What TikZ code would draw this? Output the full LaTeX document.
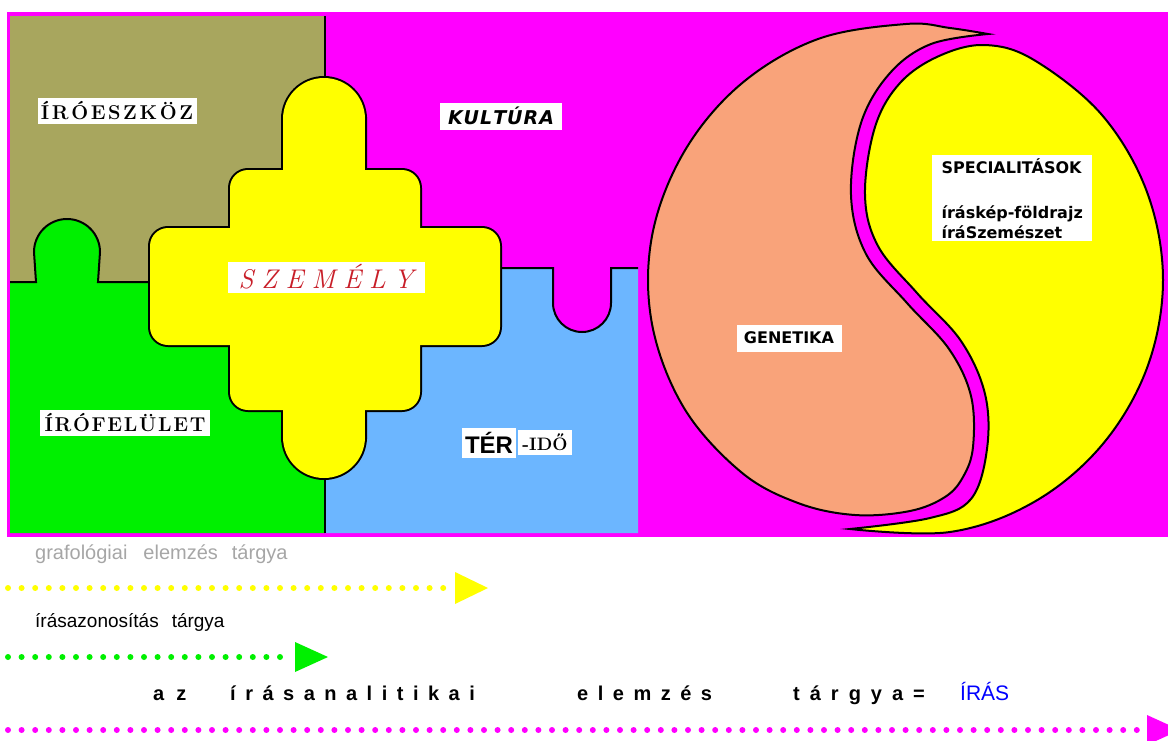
\documentclass[tikz,border=0pt]{standalone}
\usepackage{fontspec}
\newfontfamily\arial{Liberation Sans}
\newfontfamily\deja{DejaVu Sans}

\definecolor{puzmag}{RGB}{255,0,255}
\definecolor{puzolive}{RGB}{168,166,94}
\definecolor{puzgreen}{RGB}{0,240,0}
\definecolor{puzblue}{RGB}{108,182,255}
\definecolor{puzyellow}{RGB}{255,255,0}
\definecolor{puzsalmon}{RGB}{249,163,122}
\definecolor{szred}{RGB}{200,30,40}

% betuk szetszedese
\newcommand\spaced[2]{\def\spkern{#1}\spacedfirst#2\relax}
\def\spacedfirst#1{#1\spacedaux}
\def\spacedaux#1{\ifx#1\relax\else\kern\spkern#1\expandafter\spacedaux\fi}

\begin{document}
\begin{tikzpicture}[x=1pt,y=-1pt,
    edge/.style={draw=black,line width=2pt},
    label/.style={fill=white,inner sep=0pt,text=black},
    caption/.style={anchor=base west,inner sep=0pt},
    dots/.style={line width=6pt,line cap=round,dash pattern=on 0pt off 13.6pt}]
    \useasboundingbox (0,0) rectangle (1168,740);
    % hatter
    \fill[puzmag] (7,12) rectangle (1168,537);
    % iroeszkoz
    \fill[puzolive] (10,16) rectangle (325,282);
    % irofelulet
    \fill[puzgreen] (10,533) -- (10,282) -- (36,282) -- (34,252)
        arc[start angle=180,end angle=360,radius=33] -- (98,282) -- (325,282) -- (325,533) -- cycle;
    % ter-ido
    \fill[puzblue] (325,533) -- (325,268) -- (553,268) -- (553,303)
        arc[start angle=180,end angle=0,radius=29] -- (611,268) -- (638,268) -- (638,533) -- cycle;
    % hatarok
    \draw[edge] (325,16) -- (325,533);
    \draw[edge] (10,282) -- (36,282) -- (34,252)
        arc[start angle=180,end angle=360,radius=33] -- (98,282) -- (325,282);
    \draw[edge] (325,268) -- (553,268) -- (553,303)
        arc[start angle=180,end angle=0,radius=29] -- (611,268) -- (638,268);
    % szemely: kontur, aztan kitoltes
    \draw[line width=4pt] (283,119) rectangle (365,437)
        (324,119) circle[radius=41] (324,437) circle[radius=41];
    \draw[line width=4pt,rounded corners=18pt] (230,170) rectangle (420,410)
        (150,228) rectangle (500,345);
    \fill[puzyellow] (283,119) rectangle (365,437);
    \fill[puzyellow] (324,119) circle[radius=41];
    \fill[puzyellow] (324,437) circle[radius=41];
    \fill[puzyellow,rounded corners=18pt] (230,170) rectangle (420,410);
    \fill[puzyellow,rounded corners=18pt] (150,228) rectangle (500,345);

    \node[label,minimum width=159pt,minimum height=26pt] (eszkoz) at (117,111)
        {\fontsize{20}{24}\selectfont\bfseries\spaced{2.6pt}{ÍRÓESZKÖZ}};
    \node[label,minimum width=170pt,minimum height=26pt] (felulet) at (125,423)
        {\fontsize{20}{24}\selectfont\bfseries\spaced{1.7pt}{ÍRÓFELÜLET}};
    \node[label,minimum width=197pt,minimum height=31pt,text=szred] (szemely) at (326,277)
        {\fontsize{27}{30}\selectfont\itshape\spaced{8pt}{SZEMÉLY}};
    \node[label,minimum width=122pt,minimum height=27pt] (kultura) at (501,116)
        {\deja\fontsize{19}{22}\selectfont\bfseries\itshape\spaced{1pt}{KULTÚRA}};
    \node[label,minimum width=54pt,minimum height=30pt] (ter) at (489,443)
        {\arial\fontsize{24}{28}\selectfont\bfseries TÉR};
    \node[label,minimum width=54pt,minimum height=25pt] (ido) at (545,442)
        {\fontsize{18}{22}\selectfont\bfseries -IDŐ};

    % jin-jang
    \draw[edge,fill=puzsalmon] plot[smooth,tension=0.6] coordinates {(988,34) (950,28) (906,24)
        (818,39) (741,84) (684,152) (652,236) (652,324) (684,408) (741,472) (798,503) (855,515)
        (910,511) (945,497) (963,477) (973,447) (971,396) (949,349) (907,303) (866,254) (851,195)
        (861,123) (890,73) (931,44) (988,34)} -- cycle;
    \draw[edge,fill=puzyellow] plot[smooth,tension=0.6] coordinates {(850,529) (950,532)
        (1034,502) (1102,445) (1147,368) (1163,280) (1147,192) (1102,115) (1034,60) (985,45)
        (939,56) (900,83) (875,127) (865,195) (878,246) (917,293) (961,341) (985,394) (987,449)
        (971,499) (930,518) (850,529)} -- cycle;

    \node[label,inner sep=3pt,anchor=north west,align=left,minimum width=160pt,
        font=\deja\fontsize{16}{20}\selectfont\bfseries] (spec) at (932,155)
        {SPECIALITÁSOK\\[25pt] íráskép-földrajz\\ íráSzemészet};
    \node[label,minimum width=105pt,minimum height=27pt] (genetika) at (789,338)
        {\deja\fontsize{16}{20}\selectfont\bfseries GENETIKA};

    % also resz
    \node[caption,text=gray!70] (grafo) at (35,559)
        {\arial\fontsize{20}{24}\selectfont grafológiai\hspace{16pt}elemzés\hspace{14pt}tárgya};
    \coordinate (ys) at (8,588);
    \coordinate (ye) at (452,588);
    \draw[dots,puzyellow] (ys) -- (ye);
    \fill[puzyellow] (ye) ++(3,-16) -- ++(33,16) -- ++(-33,16) -- cycle;

    \node[caption] (azon) at (35,627)
        {\arial\fontsize{19}{23}\selectfont írásazonosítás\hspace{13pt}tárgya};
    \coordinate (gs) at (8,657);
    \coordinate (ge) at (292,657);
    \draw[dots,puzgreen] (gs) -- (ge);
    \fill[puzgreen] (ge) ++(3,-15) -- ++(33,15) -- ++(-33,15) -- cycle;

    \node[caption] (az) at (153,700) {\arial\fontsize{20}{24}\selectfont\bfseries\spaced{12pt}{az}};
    \node[caption] (irasan) at (230,700) {\arial\fontsize{20}{24}\selectfont\bfseries\spaced{9.5pt}{írásanalitikai}};
    \node[caption] (elemzes) at (577,700) {\arial\fontsize{20}{24}\selectfont\bfseries\spaced{9.5pt}{elemzés}};
    \node[caption] (targya) at (793,700) {\arial\fontsize{20}{24}\selectfont\bfseries\spaced{10pt}{tárgya=}};
    \node[caption,text=blue] (iras) at (960,700) {\arial\fontsize{21}{24}\selectfont ÍRÁS};
    \coordinate (ms) at (8,730);
    \coordinate (me) at (1144,730);
    \draw[dots,puzmag] (ms) -- (me);
    \fill[puzmag] (me) ++(3,-15) -- ++(33,15) -- ++(-33,15) -- cycle;
\end{tikzpicture}
\end{document}
